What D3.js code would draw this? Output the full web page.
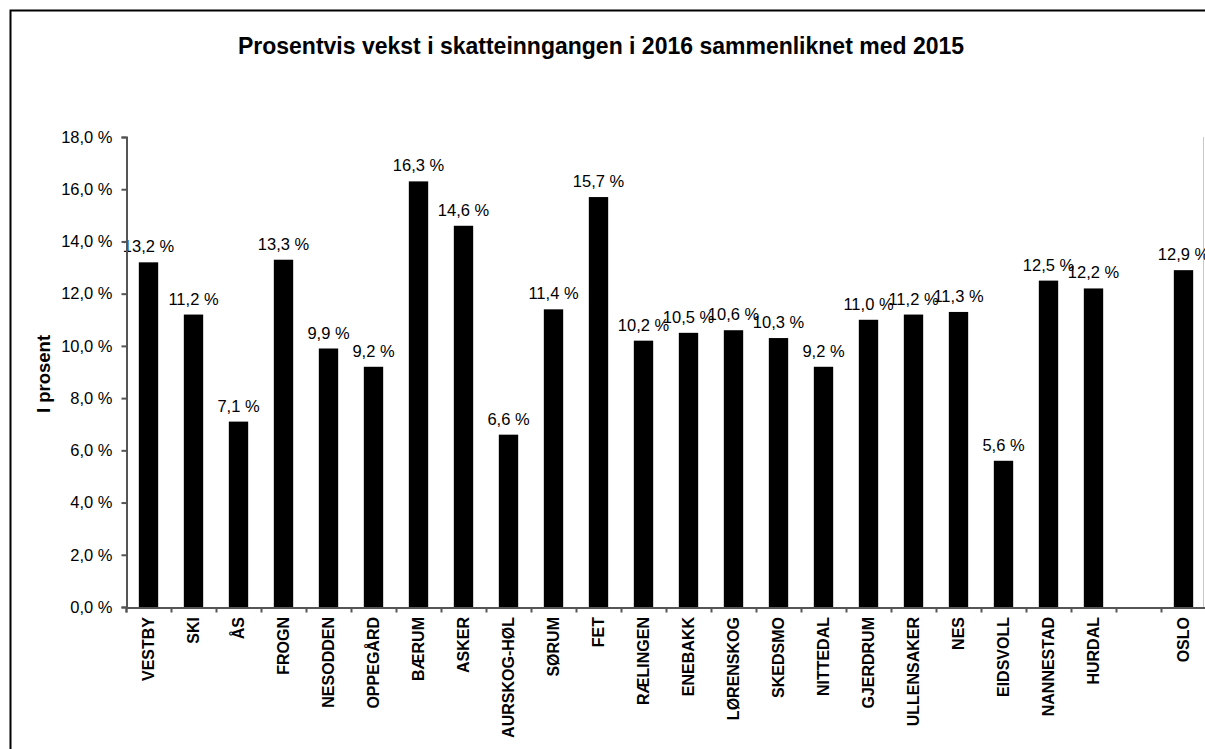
<!DOCTYPE html>
<html>
<head>
<meta charset="utf-8">
<script src="https://cdn.jsdelivr.net/npm/d3@7"></script>
<style>
    body { margin: 0; background: #fff; }
    svg { display: block; font-family: Arial, "Liberation Sans", sans-serif; }
</style>
</head>
<body>
<div id="chart"></div>
<script>
// municipalities, in the order of the chart ('' is the empty slot before OSLO)
const kommuner = ['VESTBY', 'SKI', 'ÅS', 'FROGN', 'NESODDEN', 'OPPEGÅRD', 'BÆRUM', 'ASKER',
    'AURSKOG-HØL', 'SØRUM', 'FET', 'RÆLINGEN', 'ENEBAKK', 'LØRENSKOG', 'SKEDSMO', 'NITTEDAL',
    'GJERDRUM', 'ULLENSAKER', 'NES', 'EIDSVOLL', 'NANNESTAD', 'HURDAL', '', 'OSLO'];
// growth in tax income 2016 vs 2015, percent
const vekst = [13.2, 11.2, 7.1, 13.3, 9.9, 9.2, 16.3, 14.6,
    6.6, 11.4, 15.7, 10.2, 10.5, 10.6, 10.3, 9.2,
    11.0, 11.2, 11.3, 5.6, 12.5, 12.2, null, 12.9];
const yTicks = [0, 2, 4, 6, 8, 10, 12, 14, 16, 18];

const title = 'Prosentvis vekst i skatteinngangen i 2016 sammenliknet med 2015';
const yTitle = 'I prosent';

const width = 1205;
const height = 749;
const margin = { top: 137, right: -1, bottom: 142, left: 126 };

const data = kommuner.map((k, i) => ({ key: i, name: k, value: vekst[i] }));

const fmt = (v) => v.toFixed(1).replace('.', ',') + ' %';

function createChart() {
    const svg = d3.select('#chart')
        .append('svg')
        .attr('width', width)
        .attr('height', height);

    // outer frame (runs off the right and bottom of the picture)
    svg.append('rect')
        .attr('x', 10.5).attr('y', 10.5)
        .attr('width', 1300).attr('height', 900)
        .attr('fill', 'none')
        .attr('stroke', '#000')
        .attr('stroke-width', 2);

    const left = margin.left;
    const right = width - margin.right;
    const bottom = height - margin.bottom;

    const pad = 0.57;
    const xScale = d3.scaleBand()
        .domain(data.map((d) => d.key))
        .range([left, right])
        .paddingInner(pad)
        .paddingOuter(pad / 2);

    const xIdx = d3.scaleLinear()
        .domain([0, kommuner.length])
        .range([left, right]);

    const yScale = d3.scaleLinear()
        .domain([0, 18])
        .range([bottom, margin.top]);

    // plot area right edge
    svg.append('line')
        .attr('x1', right - 2.5).attr('x2', right - 2.5)
        .attr('y1', margin.top).attr('y2', bottom)
        .attr('stroke', '#c8c8c8');

    // bars
    svg.append('g')
        .selectAll('rect')
        .data(data.filter((d) => d.value != null))
        .join('rect')
        .attr('x', (d) => xScale(d.key))
        .attr('y', (d) => yScale(d.value))
        .attr('width', xScale.bandwidth())
        .attr('height', (d) => yScale(0) - yScale(d.value))
        .attr('fill', '#000');

    // value labels
    svg.append('g')
        .selectAll('text')
        .data(data.filter((d) => d.value != null))
        .join('text')
        .attr('x', (d) => xScale(d.key) + xScale.bandwidth() / 2)
        .attr('y', (d) => yScale(d.value) - 10)
        .attr('text-anchor', 'middle')
        .attr('font-size', 16.5)
        .attr('fill', '#000')
        .text((d) => fmt(d.value));

    // y axis
    const yAxis = svg.append('g')
        .attr('transform', `translate(${left + 0.5}, 0)`)
        .call(d3.axisLeft(yScale).tickValues(yTicks).tickSize(5).tickPadding(9).tickFormat(fmt));
    yAxis.selectAll('text').attr('font-size', 16.5).attr('fill', '#000').attr('font-family', null);

    // x axis: ticks between the categories
    svg.append('g')
        .attr('transform', `translate(0, ${bottom + 0.5})`)
        .call(d3.axisBottom(xIdx).tickValues(d3.range(kommuner.length + 1)).tickSize(5).tickFormat(''));

    svg.selectAll('.domain, .tick line').attr('stroke', '#555').attr('stroke-width', 2);
    svg.selectAll('.tick text, g[font-family]').attr('font-family', null);

    // category labels, rotated
    svg.append('g')
        .selectAll('text')
        .data(data)
        .join('text')
        .attr('transform', (d) => `translate(${xScale(d.key) + xScale.bandwidth() / 2}, ${bottom + 10}) rotate(-90)`)
        .attr('text-anchor', 'end')
        .attr('dy', '0.36em')
        .attr('font-size', 16)
        .attr('font-weight', 'bold')
        .attr('fill', '#000')
        .text((d) => d.name);

    // titles
    svg.append('text')
        .attr('x', 601)
        .attr('y', 54)
        .attr('text-anchor', 'middle')
        .attr('font-size', 23)
        .attr('font-weight', 'bold')
        .text(title);

    svg.append('text')
        .attr('transform', `translate(50, 374) rotate(-90)`)
        .attr('text-anchor', 'middle')
        .attr('font-size', 18.5)
        .attr('font-weight', 'bold')
        .text(yTitle);
}

createChart();
</script>
</body>
</html>
